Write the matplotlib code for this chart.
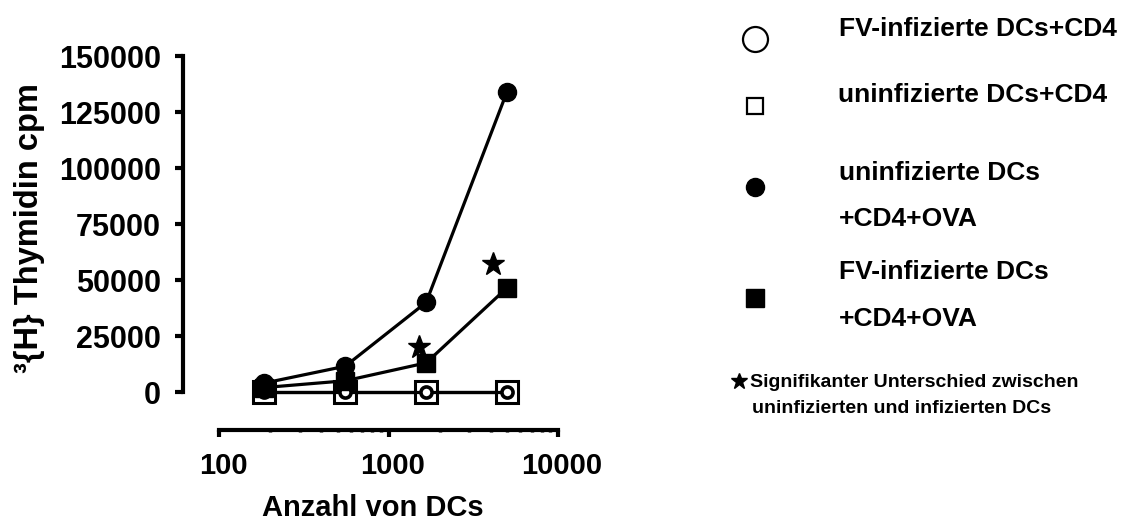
import matplotlib
matplotlib.use("Agg")
import matplotlib.pyplot as plt
from matplotlib.lines import Line2D
from matplotlib.ticker import FixedLocator, NullFormatter
from matplotlib.transforms import ScaledTranslation

plt.rcParams['font.family'] = ['Liberation Sans', 'DejaVu Sans']
plt.rcParams['font.weight'] = 'bold'

# Number of dendritic cells per well (3-fold dilution series)
dc_counts = [185, 555, 1667, 5000]

# 3H-thymidine incorporation (cpm)
fv_dc_cd4 = [0, 0, 0, 0]
uninf_dc_cd4 = [0, 0, 0, 0]
uninf_dc_cd4_ova = [4000, 11500, 40000, 134000]
fv_dc_cd4_ova = [2000, 5000, 13000, 46500]

# Positions of significance stars
star_x = [1510, 4150]
star_y = [20000, 57000]

y_ticks = [0, 25000, 50000, 75000, 100000, 125000, 150000]
x_ticks = [100, 1000, 10000]
x_tick_labels = ["100", "1000", "10000"]
x_minor = [m * d for d in (100, 1000) for m in range(2, 10)]

legend_labels = [
    "FV-infizierte DCs+CD4",
    "uninfizierte DCs+CD4",
    "uninfizierte DCs\n+CD4+OVA",
    "FV-infizierte DCs\n+CD4+OVA",
]
note_lines = ["Signifikanter Unterschied zwischen",
              "uninfizierten und infizierten DCs"]

W, H = 1129, 520
fig = plt.figure(figsize=(W / 100, H / 100), dpi=100)
ax = fig.add_axes([183 / W, 1 - 430 / H, (558 - 183) / W, (430 - 56) / H])

lw = 2.3
ax.plot(dc_counts, uninf_dc_cd4, color='black', lw=lw, marker='s', ms=16,
        mfc='white', mec='black', mew=2.2, zorder=3, clip_on=False)
ax.plot(dc_counts, fv_dc_cd4, color='black', lw=lw, marker='o', ms=8,
        mfc='white', mec='black', mew=2.6, zorder=4, clip_on=False)
ax.plot(dc_counts, fv_dc_cd4_ova, color='black', lw=lw, marker='s', ms=12.5,
        mfc='black', mec='black', zorder=5, clip_on=False)
ax.plot(dc_counts, uninf_dc_cd4_ova, color='black', lw=lw, marker='o', ms=13,
        mfc='black', mec='black', zorder=6, clip_on=False)
ax.plot(star_x, star_y, ls='none', marker='*', ms=17, color='black',
        zorder=7, clip_on=False)

ax.set_xscale('log')
left_lim = 10 ** (2 - 36 / 169)
ax.set_xlim(left_lim, 10000)
ax.set_ylim(-(430 - 392) * 150000 / 336, 150000)

for s in ['top', 'right']:
    ax.spines[s].set_visible(False)
ax.spines['left'].set_linewidth(3)
ax.spines['bottom'].set_linewidth(3)
ax.spines['left'].set_bounds(0, 150000)
ax.spines['bottom'].set_bounds(100, 10000)

ax.yaxis.set_major_locator(FixedLocator(y_ticks))
ax.set_yticklabels([str(v) for v in y_ticks])
ax.xaxis.set_major_locator(FixedLocator(x_ticks))
ax.set_xticklabels(x_tick_labels)
ax.xaxis.set_minor_locator(FixedLocator(x_minor))
ax.xaxis.set_minor_formatter(NullFormatter())

ax.tick_params(axis='y', which='major', direction='out', length=6, width=3,
               labelsize=22, pad=10)
ax.tick_params(axis='x', which='major', direction='out', length=5, width=3,
               labelsize=21, pad=11)
ax.tick_params(axis='x', which='minor', direction='out', length=1.5, width=2.5)
shift = ScaledTranslation(4 / 100, 0, fig.dpi_scale_trans)
for lab in ax.get_xticklabels():
    lab.set_fontweight('bold')
    lab.set_transform(lab.get_transform() + shift)
for lab in ax.get_yticklabels():
    lab.set_fontweight('bold')

ax.set_xlabel("Anzahl von DCs", fontsize=21, fontweight='bold')
ax.set_ylabel("³{H} Thymidin cpm", fontsize=23.5, fontweight='bold')
ax.xaxis.set_label_coords((373 - 183) / 375, (430 - 494) / 374)
ax.yaxis.set_label_coords((45 - 183) / 375, (430 - 228) / 374)

# Legend drawn manually in figure pixel coordinates
def fx(px):
    return px / W


def fy(py):
    return 1 - py / H


legend_markers = [
    dict(marker='o', ms=18, mfc='white', mec='black', mew=1.6, y=39),
    dict(marker='s', ms=12, mfc='white', mec='black', mew=1.6, y=106),
    dict(marker='o', ms=13, mfc='black', mec='black', mew=1, y=187),
    dict(marker='s', ms=13, mfc='black', mec='black', mew=1, y=298),
]
for m in legend_markers:
    y = m.pop('y')
    fig.add_artist(Line2D([fx(755)], [fy(y)], transform=fig.transFigure,
                          ls='none', **m))

legend_baselines = [(839, [36]), (838, [102]), (839, [180, 226]),
                    (839, [279, 326])]
for label, (x0, bases) in zip(legend_labels, legend_baselines):
    for line, b in zip(label.split("\n"), bases):
        fig.text(fx(x0), fy(b), line, fontsize=19, fontweight='bold',
                 ha='left', va='baseline')

fig.add_artist(Line2D([fx(739)], [fy(381)], transform=fig.transFigure,
                      ls='none', marker='*', ms=12, color='black'))
fig.text(fx(750), fy(387), note_lines[0], fontsize=14, fontweight='bold',
         ha='left', va='baseline')
fig.text(fx(752), fy(413), note_lines[1], fontsize=14, fontweight='bold',
         ha='left', va='baseline')

fig.savefig("out.png", dpi=100)
